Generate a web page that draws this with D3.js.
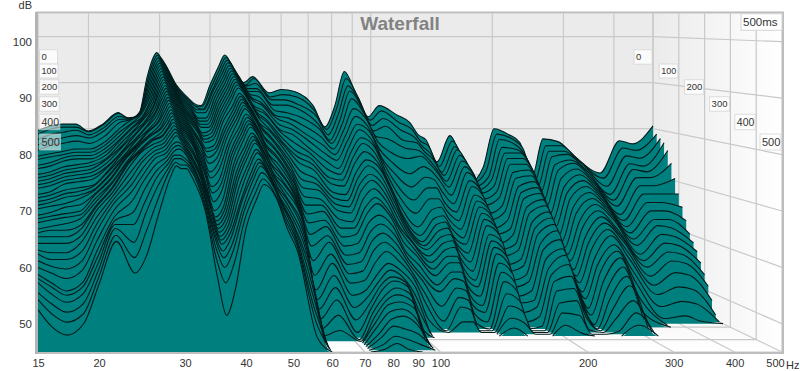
<!DOCTYPE html>
<meta charset="utf-8">
<script src="https://cdn.jsdelivr.net/npm/d3@7"></script>
<style>
  html, body { margin: 0; background: #fff; }
  text { font-family: "Liberation Sans", Arial, sans-serif; }
</style>
<div id="my_dataviz"></div>
<script>

// axis ticks
var hzTicks = [15, 20, 30, 40, 50, 60, 70, 80, 90, 100, 200, 300, 400, 500];
var dbTicks = [100, 90, 80, 70, 60, 50];
var msTicks = [0, 100, 200, 300, 400, 500];
var sliceCount = 36;

// frequencies of the level columns below
var hz = [15, 16, 17.2, 18.6, 20, 21.7, 23.7, 25, 26.5, 28, 28.8, 29.5, 30.2, 31, 33, 35, 36.5, 38, 40, 42,
  43.5, 46.3, 48.5, 51, 56, 60, 65, 72, 77, 81.5, 86, 92, 98.5, 105, 116, 125, 131, 137, 146, 157,
  168, 177, 190, 202, 220, 234, 251, 267, 291, 320, 370, 413, 445, 500];

// dB, one list per frequency, back slice first.
// a list stops where the level has dropped through the floor
var levels = [
  [79.6,79,78,77,76, 75,74.5,73.5,73,72, 71.5,71,70.5,70,69, 68.5,68,67.5,67,66, 65.5,65,64,63.5,63, 62,61,60.5,59.5,58.5, 57.5,57,56.5,55,54, 52.5], // 15
  [80.5,80,79,78,77, 75.5,75,74,73.5,72.5, 72,71.5,71,70.5,69.5, 69,68.5,68,67.5,66.5, 66,65.5,64.5,64,63, 62,60.5,59.5,58.5,57.5, 56,55.5,54.5,53,51.5, 49.5], // 16
  [81,80.5,79.5,78.5,77.5, 76,75.5,75,74.5,73.5, 73,72.5,72,71.5,71, 70,69.5,69,68,67.5, 66.5,66,65,64,63, 62,60.5,59.5,58,56.5, 54.5,54,53,51.5,50, 48], // 17.2
  [81,80.5,80,79,78, 76.5,76,75.5,75,74, 73.5,73,72.5,72,71.5, 70.5,70,69.5,69,68, 67,66.5,66,65,64.5, 63.5,62.5,61,59.5,58, 56,55.5,54.5,53,51.5, 50], // 18.6
  [79.5,79.5,79,78.5,77.5, 76.5,76,75.5,75,74.5, 74,73.5,73,72.5,72, 71,71,70.5,70.5,70, 70,69.5,69,68.5,68.5, 68,67,66,65,63.5, 62,61,60,59,58, 57], // 20
  [81,81,80.5,80,79, 78,77.5,77,76.5,76, 75.5,75.5,75,74.5,74.5, 74,74,73.5,73.5,73, 73,72.5,72.5,72,72, 71.5,71,70.5,70,69, 68,67.5,67,66.5,65.5, 64.6], // 21.7
  [83.5,83.5,83,82.5,82, 81,80.5,80,79.5,79.5, 79,78.5,78.5,78,78, 78,77.5,77.5,77.5,77.5, 77.5,77,77,77,77, 76.5,75.5,74.5,73.5,72.5, 71,69,67,64,61.5, 59], // 23.7
  [82,82.5,82.5,82.5,82.5, 82.5,82,82,81.5,81.5, 81,81,80.5,80.5,80, 80,80,79.5,79.5,79.5, 79.5,79.5,79,79,79, 79,78,77.5,76.5,75.5, 74.5,73,71,69,66, 62], // 25
  [82.5,83,83.5,84,84, 84,84,83.5,83.5,83.5, 83.5,83,83,83,82.5, 82.5,82,82,82,81.5, 81.5,81.5,81,81,81, 80.5,80,79.5,79,78.5, 77.5,76.5,75.5,74,72, 69.5], // 26.5
  [91.5,91,90.5,90,89.5, 89,88.5,88,87.5,87, 86.5,86.5,86,85.5,85.5, 85,84.5,84,84,83.5, 83,83,82.5,82,82, 81.5,81,80.5,80,79.5, 79,78.5,78,77.5,77, 76], // 28
  [95,94.5,94,93.5,93, 92.5,92,91.5,91,90.5, 90,89.5,89,88.5,88, 87.5,87,86.5,86,85.5, 85,84.5,84,83.5,83.5, 83,82.5,82,81.5,81, 80.5,80,79.5,79,78.5, 78], // 28.8
  [96.5,96,95.5,95,94.5, 94,93.5,93,92.5,92, 91.5,91,90.5,90,89.5, 89,88.5,88,87.5,87, 86.5,86,85.5,85,84.5, 84,83.5,83,82.5,81.5, 81,80.5,79.5,79,78, 77.5], // 29.5
  [95.5,95,94.5,94,93.5, 93,92.5,92,91.5,91, 90.5,90,89.5,89,88.5, 88,87.5,87,86.5,86, 85.5,85,84.5,84,83.5, 83,82.5,82,81.5,81, 80.5,80,79,78.5,78, 77.5], // 30.2
  [94,93.5,93,92.5,92, 91.5,91,90.5,90,89.5, 89,88.5,88,87.5,87, 86.5,86,85.5,85,84.5, 84,83.5,83,82.5,82, 81.5,81,80.5,80,79.5, 79,78.5,78,77.5,77, 76], // 31
  [89.5,89,88.5,88.5,88, 87.5,87,86.5,86,85.5, 85.5,85,84.5,84,83.5, 83,82.5,82,81.5,81, 80.5,80,79.5,79,78, 77.5,77,76,75.5,75, 74,73.5,73,72,71, 70], // 33
  [87,86.5,86.5,86,85.5, 85,84.5,84,83.5,83, 82.5,82,81.5,81,80, 79.5,79,78,77,76, 75,74,72.5,71.5,70.5, 70,69.5,69,67.5,67.5, 66.5,65.5,64.5,63,61, 58], // 35
  [85.5,85,85,84.5,84, 83,82.5,82,81.5,80.5, 80,79.5,79,78,77.5, 76.5,75.5,74,73,71.5, 70.5,69,67.5,66.5,66, 65.5,65,64.5,64,63.5, 63,62,61,59.5,57, 51.5], // 36.5
  [85,85,84.5,84.5,84, 83,82.5,82,81.5,81, 80.5,80,79.5,78.5,78, 77.5,76.5,75.5,74.5,73, 72,71,69.5,68.5,68, 67.5,67,66.5,66,65.5, 65,64.5,63.5,62.5,60.5, 56], // 38
  [89.5,89,88.5,88.5,88, 87.5,87,86.5,86,85.5, 85,84.5,84,83.5,82.5, 82,81.5,81,80,79.5, 78.5,78,77.5,76.5,76, 75,74.5,74,73,72, 71,71,70,69.5,68.5, 67], // 40
  [93.5,93,92.5,92,91.5, 91,90.5,90,89.5,89, 88.5,88,87.5,86.5,86, 85.5,85,84.5,84,83, 82.5,82,81.5,81,80, 79.5,79,78.5,77.5,77, 76,75.5,75,74,73, 72], // 42
  [96,95.5,95,94.5,94, 93.5,93,92.5,92,91.5, 91,90.5,90,89,88.5, 88,87.5,87,86.5,85.5, 85,84.5,84,83.5,82.5, 82,81.5,81,80,79.5, 78.5,78,77.5,76.5,75.5, 74.7], // 43.5
  [92,92,91.5,91.5,91, 90.5,90,89.5,89,88.5, 88,87.5,87,86,85.5, 85,84.5,84,83,82.5, 82,81.5,80.5,80,79, 78.5,78,77,76.5,75.5, 75,74.5,74,73.5,72.5, 72], // 46.3
  [90,89.5,89.5,89,88.5, 88,87.5,87,86,85.5, 85,84.5,84,83,82.5, 82,81,80.5,79.5,79, 78,77.5,76.5,76,75, 74.5,74,73,72.5,71.5, 71,70.5,70,69,68, 67], // 48.5
  [91.3,91,90,89,88.5, 87.5,86.5,86,85,84.5, 83.5,83,82,81.5,80.5, 80,79,78.5,77.5,77, 76,75,74.5,73.5,73, 72,71,70.5,69.5,68.5, 67.5,67,66,65,64, 62.8], // 51
  [87.8,87,86.5,85.5,84.5, 83.5,83,82,81,80.5, 79.5,78.5,78,77,76, 75,74,73,72,71, 70,69,68,67,66, 65.5,64,62.5,61,59.5, 58,56,54,52,50, 47.5], // 56
  [88.5,87.5,86.5,85.5,84, 83,82,81,80,78.5, 77,76,75,73.5,72, 70.5,69,67.5,66,64.5, 62.5,60.5,58,55.5,53, 51.5,50,48.5,47,46, 45], // 60
  [88,87,85.5,84.5,83, 81.5,80,79,77.5,76.5, 75.5,74.5,73.5,72,71, 70,68.5,67.5,66.5,65, 64,62.5,61.5,59.5,58, 56,54,52,49.5,47, 45], // 65
  [85,84,83,81.5,80.5, 79,77.5,76,74.5,73, 71.5,70.5,69,68,67, 66,64.5,63,61.5,60, 58.5,57,55.5,54,52, 50,48,46,44], // 72
  [80.4,80,79,78,77.5, 76.5,75.5,74.5,73,72, 71,70,68.5,67.5,66.5, 65.5,64,63,62,60.5, 59,57.5,56,54.5,53, 52,51,50.5,50,49.5, 49,48.5,47.5,47,46, 45.5], // 77
  [85,84.5,83.5,82.5,81.5, 80.5,79.5,78.5,77.5,76.5, 75.5,74.5,73,72,71, 70,68.5,67,66,64.5, 63,61.5,60,58,56, 55,54.5,54,53,52.5, 52,51,50,49,47.5, 46.5], // 81.5
  [92.4,91,89.5,88.5,87, 85,83.5,82,81,79.5, 78.5,77,75.5,74.5,73, 72,70.5,69,68,66, 64.5,63,61.5,60,58, 57,56,55.5,54.5,53.5, 52.5,51.5,50.5,48.5,47, 45.5], // 86
  [87.5,87,86,85,84, 83,81.5,80.5,79,78, 76.5,75,74,72.5,71, 69.5,68,66.5,65.5,64, 62.5,61,59.5,58,56.5, 55.5,55,54.5,53.5,52.5, 51.5,50,49,47.5,46, 45], // 92
  [82.6,82,81,80,79, 78,76.5,75,74,72.5, 71,70,69,67.5,66, 64.5,63,62,60.5,59, 58,57,56,55,53.5, 51.5,49.5,47,45], // 98.5
  [85,84,82.5,81,78.5, 76,74,72,70,68, 66,64.5,63.5,62.5,61.5, 60.5,60,59,58,56.5, 55,54,52,50,47.5, 45], // 105
  [83,81.5,80,78,76.5, 74.5,71.5,69,66.5,64, 61.5,60,59,58.5,58, 57,56,55,54,52.5, 51.5,49,46.5,45], // 116
  [81.3,80,78.5,77.5,76, 75,73,71,69,67, 65,63.5,62.5,61.5,60.5, 59.5,58.5,57.5,56.5,55, 54,52.5,51,49.5,47, 45], // 125
  [78.7,77.5,76.5,75.5,74.5, 73.5,72,70.5,69,67, 65.5,64,63,62,61, 60,59,57.5,56.5,55, 53.5,52,50.5,49,47, 45], // 131
  [77.6,76.5,75,74,72.5, 71.5,70,68,66,64.5, 63,61.5,60,59,58, 56.5,55,53.5,52,50.5, 49,47.5,46,45], // 137
  [72.8,72,71,70.5,69.5, 68.5,67,65.5,64,62.5, 61,59.5,58.5,57,55.5, 54,52.5,51.5,50,48.5, 47.5,46,45], // 146
  [78.5,77.5,76.5,76,75, 74,73,72,70.5,69.5, 68,67,66,65,64, 63,61.5,60.5,59.5,58.5, 57,55.5,54,52,50, 48,46.5,45], // 157
  [73.3,73,72.5,72,71.5, 71,70,69,68,67, 66,65,64,63,62, 61,60,58.5,57.5,56, 55,53.5,52,50.5,49, 47,45], // 168
  [68.5,68.5,68,67.5,67, 66,65,63.5,62.5,61, 60,58.5,57.5,56.5,55, 54,52.5,51.5,50,49, 47.5,46,45], // 177
  [71.7,71,70,69.5,68.5, 67.5,66.5,65,64,62.5, 61,60,58.5,57.5,56, 55,53.5,52.5,51,49.5, 48.5,47,45.5], // 190
  [80,79,78,76.5,75.5, 74.5,73.5,72,71,69.5, 68.5,67.5,66,65,63.5, 62.5,61.5,60,59,57.5, 56,55,54,52.5,50.5, 49,47,45], // 202
  [78.7,78,77,76,75.5, 74.5,73.5,72.5,71.5,70.5, 69.5,68.5,67.5,66.5,65.5, 64.5,63.5,62.5,61,59.5, 58.5,57,55,53,51, 48.5,45.5], // 220
  [77,76,74.5,73.5,72.5, 71.5,70,69,67.5,66.5, 65,63.5,62.5,61,60, 58.5,57.5,56,54.5,53.5, 52,50.5,49,47.5,45.5], // 234
  [69.6,69,68,67,65.5, 64.5,63,62,61,59.5, 58.5,57.5,56.5,55.5,54, 53,52,50.5,49.5,48, 47,45.5], // 251
  [77.8,76.5,75.5,74.5,73, 72,70.5,69,68,67, 65.5,64.5,63,62,60.5, 59.5,58.5,57,56,55, 53.5,52,50.5,49,47.5, 45.5], // 267
  [77.2,76.5,75.5,75,74, 73.5,72.5,71.5,70.5,69.5, 68.5,67.5,66.5,65.5,64.5, 63.5,62.5,61.5,60,59, 58,56.5,55,53.5,51, 49,47,45], // 291
  [74,73.5,73,72,71.5, 70.5,69.5,68.5,67.5,66.5, 65.5,64.5,63.5,62,61, 60,58.5,57,55,53, 50.5,48,45], // 320
  [70.4,69.5,68,66.5,65.5, 64.5,63,62,61,60, 59,58,56.5,55.5,54.5, 53,51.5,50,48,46, 45], // 370
  [77.4,76,74.5,73,72, 70.5,69,67.5,66,64.5, 63,62,60.5,59,57.5, 56,54,51.5,49,46.5, 45], // 413
  [76.7,75.5,74,72.5,71.5, 70.5,69,67.5,66,64.5, 63,61.5,60,58.5,57, 55.5,53.5,51,48.5,45.5], // 445
  [80.6,79,78.2,77.5,76, 73.5,70.5,67.5,65,62.5, 60,58.5,57,55,53, 51,48.5,46] // 500
];

// the box in the picture: back wall corner, front corner, floor level and top level
var left = 38, backRight = 653, frontRight = 782;
var top_ = 13.5, backFloor = 290, frontFloor = 352;
var floorDb = 45, topDb = 105;

// one log x scale and one y scale per depth, 0 = back wall, 1 = front
function xAt(t) {
  return d3.scaleLog().domain([15, 500]).range([left, backRight + (frontRight - backRight) * t]);
}
function yAt(t) {
  return d3.scaleLinear().domain([floorDb, topDb]).range([backFloor + (frontFloor - backFloor) * t, top_]);
}
var depth = d3.scaleLinear().domain([0, 500]).range([0, 1]);
var grid = "#c9c9c9";

var svg = d3.select("#my_dataviz")
  .append("svg")
    .attr("width", 800)
    .attr("height", 371)
    .style("display", "block");

var defs = svg.append("defs");
var wallGrad = defs.append("linearGradient").attr("id", "sideWall");
wallGrad.append("stop").attr("offset", "0%").attr("stop-color", "#ebebeb");
wallGrad.append("stop").attr("offset", "100%").attr("stop-color", "#ffffff");
var floorGrad = defs.append("linearGradient").attr("id", "floor")
  .attr("x1", 0).attr("x2", 0).attr("y1", 0).attr("y2", 1);
floorGrad.append("stop").attr("offset", "0%").attr("stop-color", "#f1f1f1");
floorGrad.append("stop").attr("offset", "100%").attr("stop-color", "#ffffff");

// walls
svg.append("rect").attr("x", left).attr("y", top_).attr("width", backRight - left)
  .attr("height", backFloor - top_).attr("fill", "#ebebeb");
svg.append("path").attr("fill", "url(#sideWall)")
  .attr("d", d3.line()([[backRight, top_], [frontRight, top_], [frontRight, frontFloor], [backRight, backFloor]]) + "Z");
svg.append("path").attr("fill", "url(#floor)")
  .attr("d", d3.line()([[left, backFloor], [backRight, backFloor], [frontRight, frontFloor], [left, frontFloor]]) + "Z");

var gridLines = svg.append("g").attr("stroke", grid).attr("fill", "none").attr("stroke-width", 1.2);

// back wall and floor, per frequency
hzTicks.forEach(function(f) {
  gridLines.append("path").attr("d", d3.line()([[xAt(0)(f), top_], [xAt(0)(f), backFloor], [xAt(1)(f), frontFloor]]));
});
// back wall and side wall, per dB
dbTicks.forEach(function(d) {
  gridLines.append("path").attr("d", d3.line()([[left, yAt(0)(d)], [backRight, yAt(0)(d)], [frontRight, yAt(1)(d)]]));
});
// side wall and floor, per time step
msTicks.forEach(function(ms) {
  var t = depth(ms);
  gridLines.append("path").attr("d", d3.line()([[left, yAt(t)(floorDb)], [xAt(t)(500), yAt(t)(floorDb)], [xAt(t)(500), top_]]));
});

// slices, back to front
d3.range(sliceCount).forEach(function(i) {
  var t = i / (sliceCount - 1);
  var x = xAt(t), y = yAt(t);
  var pts = hz.map(function(f, j) {
    var v = levels[j][i];
    return {f: f, v: v === undefined ? floorDb : Math.max(v, floorDb)};
  });

  svg.append("path")
    .datum(pts)
    .attr("fill", "#007f7f")
    .attr("d", d3.area()
      .curve(d3.curveMonotoneX)
      .x(function(d) { return x(d.f); })
      .y0(y(floorDb))
      .y1(function(d) { return y(d.v); }));

  svg.append("path")
    .datum(pts)
    .attr("fill", "none")
    .attr("stroke", "#021a1a")
    .attr("stroke-width", 1.1)
    .attr("d", d3.line()
      .curve(d3.curveMonotoneX)
      .defined(function(d, j) {
        return d.v > floorDb || (j > 0 && pts[j - 1].v > floorDb) || (j < pts.length - 1 && pts[j + 1].v > floorDb);
      })
      .x(function(d) { return x(d.f); })
      .y(function(d) { return y(d.v); }));
});

// frame
svg.append("rect").attr("x", 37).attr("y", 12.5).attr("width", 746).attr("height", 340.5)
  .attr("fill", "none").attr("stroke", "#bdbdbd").attr("stroke-width", 2);
svg.append("rect").attr("x", 35).attr("y", 12).attr("width", 3).attr("height", 342).attr("fill", "#b4b4b4");

// title
svg.append("text").attr("x", 400).attr("y", 30).attr("text-anchor", "middle")
  .attr("font-size", 19).attr("font-weight", "bold").attr("fill", "#828282").text("Waterfall");

// axes along the front of the box
var xAxis = svg.append("g").attr("transform", "translate(0,352)")
  .call(d3.axisBottom(xAt(1)).tickValues(hzTicks).tickFormat(d3.format("d")).tickSize(0).tickPadding(7));
var yAxis = svg.append("g").attr("transform", "translate(33,0)")
  .call(d3.axisLeft(yAt(1)).tickValues(dbTicks).tickSize(0).tickPadding(1));
xAxis.select(".domain").remove();
yAxis.select(".domain").remove();
xAxis.selectAll("text").attr("font-size", 11).attr("fill", "#333").attr("font-family", null);
yAxis.selectAll("text").attr("font-size", 11.5).attr("fill", "#333").attr("font-family", null);
xAxis.selectAll(".tick").filter(function(d) { return d === 500; }).select("text").attr("dx", -7);

svg.append("text").attr("x", 786).attr("y", 369).attr("font-size", 11).attr("fill", "#333").text("Hz");
svg.append("text").attr("x", 32).attr("y", 9).attr("text-anchor", "end").attr("font-size", 11).attr("fill", "#333").text("dB");

// time labels, a column on the left and one stepping down the side wall
var labelY = [57, 71, 87, 104, 122, 142];
var labelSize = [9.5, 9, 9.5, 9.5, 10.5, 11];
function timeLabel(text, boxX, boxW, cy, size, op) {
  var h = size + 5;
  svg.append("rect").attr("x", boxX).attr("y", cy - h / 2).attr("width", boxW).attr("height", h)
    .attr("fill", "#fff").attr("fill-opacity", op).attr("stroke", "#d4d4d4").attr("stroke-opacity", op);
  svg.append("text").attr("x", boxX + 2).attr("y", cy + size * 0.36).attr("font-size", size)
    .attr("fill", "#333").text(text);
}
msTicks.forEach(function(ms, k) {
  var boxW = ms === 0 ? 18 : 18 + k * 0.6;
  timeLabel(ms, 39.5, boxW, labelY[k], labelSize[k], k >= 4 ? 0.55 : 0.8);
  timeLabel(ms, xAt(depth(ms))(500) - boxW - 1, boxW, labelY[k], labelSize[k], 0.8);
});
timeLabel("500ms", 741, 41, 22, 11.5, 1);

</script>
